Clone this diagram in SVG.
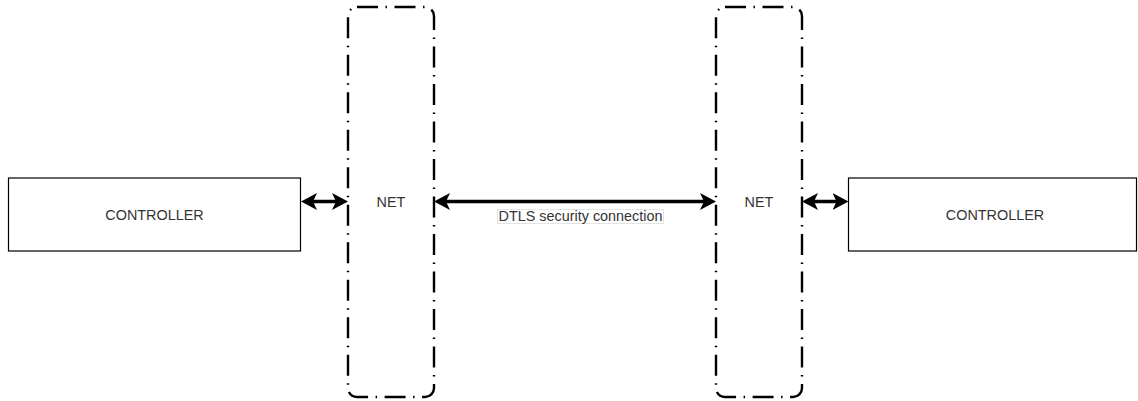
<svg xmlns="http://www.w3.org/2000/svg" width="1138" height="401" viewBox="0 0 1138 401">
<style>
.box{fill:#fff;stroke:#000;stroke-width:1.2}
.net{fill:none;stroke:#000;stroke-width:2.4;stroke-dasharray:21 7.5 1.5 7.5}
.lbl{font-family:"Liberation Sans",Arial,sans-serif;font-size:14.4px;fill:#333;text-anchor:middle}
.conn{stroke:#000;stroke-width:3.6;fill:none;marker-start:url(#ah);marker-end:url(#ah)}
</style>
<defs>
<marker id="ah" markerUnits="userSpaceOnUse" viewBox="0 0 16 18" refX="11" refY="9" markerWidth="16" markerHeight="18" orient="auto-start-reverse">
<path d="M0,0.5 L16,9 L0,17.5 L4,9 Z" fill="#000"/>
</marker>
</defs>
<g id="controller-left">
<rect class="box" x="8.5" y="178" width="292" height="73"/>
<text class="lbl" x="154.5" y="220">CONTROLLER</text>
</g>
<g id="controller-right">
<rect class="box" x="848.5" y="178" width="288" height="73"/>
<text class="lbl" x="995" y="220">CONTROLLER</text>
</g>
<g id="net-left">
<rect class="net" x="348" y="7" width="86" height="390" rx="9"/>
<text class="lbl" x="391" y="206.5">NET</text>
</g>
<g id="net-right">
<rect class="net" x="716" y="7" width="86" height="390" rx="9"/>
<text class="lbl" x="759" y="206.5">NET</text>
</g>
<g id="connectors">
<line class="conn" x1="306" y1="201.5" x2="343" y2="201.5"/>
<line class="conn" x1="439" y1="201.5" x2="711" y2="201.5"/>
<line class="conn" x1="807" y1="201.5" x2="843.5" y2="201.5"/>
<rect x="497.5" y="209.5" width="166" height="14" fill="#fff" stroke="#ddd" stroke-width="0.8"/>
<text class="lbl" x="580.5" y="221.3">DTLS security connection</text>
</g>
</svg>
